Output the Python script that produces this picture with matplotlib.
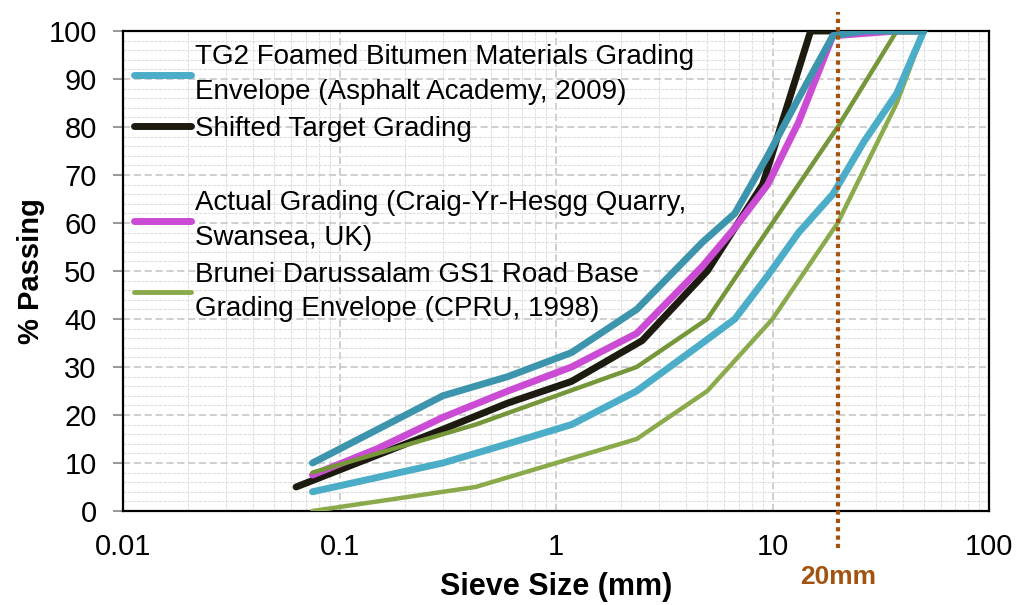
import matplotlib.pyplot as plt
from matplotlib.lines import Line2D
from matplotlib.ticker import LogLocator, MultipleLocator, FixedLocator, FixedFormatter
import matplotlib.transforms as mtransforms

plt.rcParams['font.family'] = ['Liberation Sans', 'DejaVu Sans']

# TG2 foamed bitumen grading envelope (Asphalt Academy, 2009)
sieve_tg2 = [0.075, 0.15, 0.3, 0.6, 1.18, 2.36, 4.75, 6.7, 9.5, 13.2, 19, 26.5, 37.5, 50]
tg2_lower = [4, 7, 10, 14, 18, 25, 35, 40, 49, 58, 66, 77, 87, 100]
tg2_upper = [10, 17, 24, 28, 33, 42, 56, 62, 74, 86, 99, 100, 100, 100]

# shifted target grading
sieve_target = [0.063, 0.3, 0.6, 1.18, 2.5, 5, 9, 15, 50]
target_pass = [5, 17, 22.5, 27, 35.5, 50, 68, 100, 100]

# actual grading, Craig-Yr-Hesgg quarry
sieve_actual = [0.075, 0.15, 0.3, 0.6, 1.18, 2.36, 4.75, 6.7, 9.5, 13.2, 19, 37.5]
actual_pass = [7.5, 13, 19.5, 25, 30, 37, 51, 59, 68, 81, 99, 100]

# Brunei GS1 road base envelope (CPRU, 1998)
sieve_gs1 = [0.075, 0.425, 2.36, 5, 10, 20, 37.5, 50]
gs1_lower = [0, 5, 15, 25, 40, 60, 85, 100]
gs1_upper = [8, 18, 30, 40, 60, 80, 100, 100]

limit_size = 20

c_tg2_lo = '#4BADC7'
c_tg2_hi = '#3C94AD'
c_target = '#1D1A10'
c_actual = '#CB4BD5'
c_gs1_lo = '#8AAA4B'
c_gs1_hi = '#76963A'
c_limit = '#A3520F'

fig = plt.figure(figsize=(10.27, 6.05), dpi=100)
ax = fig.add_axes([0.1198, 0.1554, 0.8432, 0.7934])

ax.plot(sieve_target, target_pass, color=c_target, lw=5, solid_capstyle='round', zorder=3)
ax.plot(sieve_actual, actual_pass, color=c_actual, lw=5, solid_capstyle='round', zorder=4)
ax.plot(sieve_gs1, gs1_lower, color=c_gs1_lo, lw=3.2, solid_capstyle='round', zorder=5)
ax.plot(sieve_gs1, gs1_upper, color=c_gs1_hi, lw=3.2, solid_capstyle='round', zorder=5)
ax.plot(sieve_tg2, tg2_lower, color=c_tg2_lo, lw=5, solid_capstyle='round', zorder=6)
ax.plot(sieve_tg2, tg2_upper, color=c_tg2_hi, lw=5, solid_capstyle='round', zorder=6)

ax.set_xscale('log')
ax.set_xlim(0.01, 100)
ax.set_ylim(0, 100)

ax.xaxis.set_major_locator(FixedLocator([0.01, 0.1, 1, 10, 100]))
ax.xaxis.set_major_formatter(FixedFormatter(['0.01', '0.1', '1', '10', '100']))
ax.xaxis.set_minor_locator(LogLocator(base=10, subs=range(2, 10)))
ax.xaxis.set_minor_formatter(FixedFormatter([]))
ax.yaxis.set_major_locator(MultipleLocator(10))
ax.yaxis.set_minor_locator(MultipleLocator(2))

ax.grid(which='minor', color='#E0E0E0', lw=0.8, ls=(0, (3, 1)), zorder=0)
ax.grid(which='major', color='#CCCCCC', lw=1.3, ls=(0, (4, 2)), zorder=0)
ax.set_axisbelow(True)

ax.tick_params(axis='x', which='both', length=0, labelsize=21, pad=16)
ax.tick_params(axis='y', which='major', length=7, width=1.2, color='#888888', labelsize=21, pad=12)
ax.tick_params(axis='y', which='minor', length=0)
for s in ax.spines.values():
    s.set_color('black')
    s.set_linewidth(1.6)

ax.set_xlabel('Sieve Size (mm)', fontsize=22, fontweight='bold', labelpad=8)
ax.set_ylabel('% Passing', fontsize=21, fontweight='bold', labelpad=2)

# 20 mm limit line running past the plot frame
trans = mtransforms.blended_transform_factory(ax.transData, ax.transAxes)
ax.plot([limit_size, limit_size], [-0.077, 1.04], transform=trans, color=c_limit,
        lw=3, ls=(0, (1, 1)), dash_capstyle='butt', clip_on=False, zorder=7)
ax.text(limit_size, -0.138, '20mm', transform=trans, color=c_limit, fontsize=19,
        fontweight='bold', ha='center', va='center')

handles = [
    Line2D([], [], color=c_tg2_lo, lw=5, solid_capstyle='round'),
    Line2D([], [], color=c_target, lw=5, solid_capstyle='round'),
    Line2D([], [], color='none'),
    Line2D([], [], color=c_actual, lw=5, solid_capstyle='round'),
    Line2D([], [], color=c_gs1_lo, lw=3.5, solid_capstyle='round'),
]
labels = [
    'TG2 Foamed Bitumen Materials Grading\nEnvelope (Asphalt Academy, 2009)',
    'Shifted Target Grading',
    ' ',
    'Actual Grading (Craig-Yr-Hesgg Quarry,\nSwansea, UK)',
    'Brunei Darussalam GS1 Road Base\nGrading Envelope (CPRU, 1998)',
]
leg = ax.legend(handles, labels, loc='upper left', bbox_to_anchor=(0.0, 0.995), frameon=False,
                fontsize=20, handlelength=2.05, handletextpad=0.15, labelspacing=0.4,
                borderaxespad=0.2, borderpad=0.2)
for t in leg.get_texts():
    t.set_linespacing(1.42)

fig.savefig('out.png', dpi=100)
